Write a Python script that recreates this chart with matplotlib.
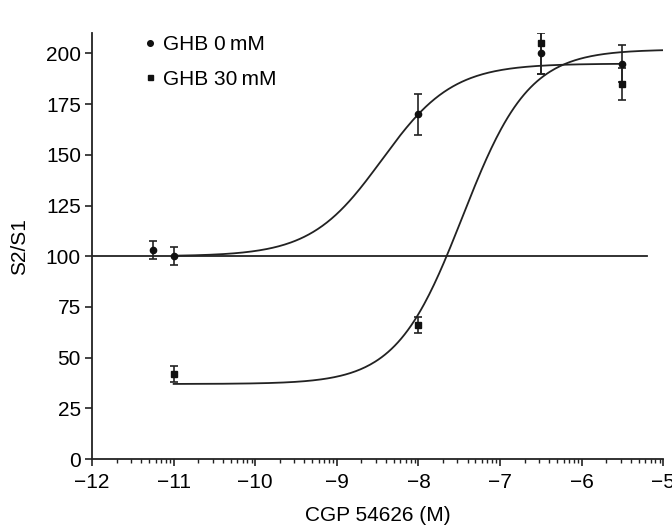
import numpy as np
from matplotlib import pyplot as plt

# log10 of CGP 54626 concentration (M) and S2/S1 ratio (% of control)
ghb0_x = [-11.25, -11.0, -8.0, -6.5, -5.5]
ghb0_y = [103, 100, 170, 200, 195]
ghb0_err = [4.5, 4.5, 10, 10, 9]

ghb30_x = [-11.0, -8.0, -6.5, -5.5]
ghb30_y = [42, 66, 205, 185]
ghb30_err = [4, 4, 15, 8]

# fitted sigmoid parameters: bottom, top, log EC50, Hill slope, x range
fit0 = (100, 195, -8.45, 1.0, -11.0, -5.5)
fit30 = (37, 202, -7.46, 1.07, -11.0, -5.0)
baseline = 100


def hill(x, bottom, top, logec50, slope):
    return bottom + (top - bottom) / (1 + 10 ** (slope * (logec50 - x)))


plt.rcParams['font.family'] = ['Liberation Sans', 'DejaVu Sans']

fig = plt.figure(figsize=(6.72, 5.27), dpi=100)
ax = fig.add_axes([0.137, 0.129, 0.850, 0.808])

ax.plot([-12, -5.2], [baseline, baseline], color='#222222', lw=1.3)
for bottom, top, ec, n, x0, x1 in (fit0, fit30):
    xs = np.linspace(x0, x1, 300)
    ax.plot(xs, hill(xs, bottom, top, ec, n), color='#222222', lw=1.3)

ax.errorbar(ghb0_x, ghb0_y, yerr=ghb0_err, fmt='o', ms=4.5, color='#111111',
            ecolor='#222222', elinewidth=1.2, capsize=3, capthick=1.2,
            label='GHB 0\u2009mM')
ax.errorbar(ghb30_x, ghb30_y, yerr=ghb30_err, fmt='s', ms=4, color='#111111',
            ecolor='#222222', elinewidth=1.2, capsize=3, capthick=1.2,
            label='GHB 30\u2009mM')

ax.set_xlim(-12, -5)
ax.set_ylim(0, 210)
ax.set_xticks(np.arange(-12, -4))
ax.set_xticklabels(['\u2212%d' % abs(v) for v in range(-12, -4)])
minor = [d + np.log10(k) for d in range(-12, -5) for k in range(2, 10)]
ax.set_xticks(minor, minor=True)
ax.set_yticks(np.arange(0, 201, 25))

for side in ('top', 'right'):
    ax.spines[side].set_visible(False)
for side in ('left', 'bottom'):
    ax.spines[side].set_linewidth(1.3)
    ax.spines[side].set_color('#222222')
ax.tick_params(which='major', length=5, width=1.2, labelsize=15,
               color='#222222')
ax.tick_params(axis='x', which='major', pad=5)
ax.tick_params(axis='y', which='major', pad=3)
ax.tick_params(axis='x', which='minor', length=3, width=1.0, color='#222222')

ax.set_xlabel('CGP 54626 (M)', fontsize=15, labelpad=10)
ax.set_ylabel('S2/S1', fontsize=15, labelpad=12)

handles, labels = ax.get_legend_handles_labels()
handles = [h[0] for h in handles]
ax.legend(handles, labels, loc='upper left', bbox_to_anchor=(0.058, 1.04),
          frameon=False, fontsize=15, handlelength=0.6, handletextpad=0.3,
          labelspacing=0.75, markerscale=0.9)

fig.savefig('out.png', dpi=100)
